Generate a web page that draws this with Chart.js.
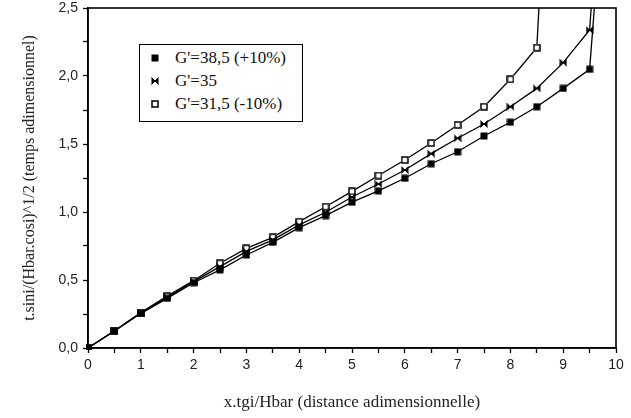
<!DOCTYPE html>
<html>
<head>
<meta charset="utf-8">
<script src="https://cdn.jsdelivr.net/npm/chart.js@4"></script>
<style>
  html, body { margin: 0; padding: 0; background: #fff; }
  #wrap { position: relative; width: 631px; height: 418px; }
  #legend {
    position: absolute; left: 139px; top: 44px; width: 162px; height: 76px;
    border: 1.5px solid #000; background: #fff;
    font-family: "Liberation Serif", "Times New Roman", serif; font-size: 17px; color: #111;
  }
  .row { position: absolute; left: 0; height: 22px; line-height: 22px; white-space: nowrap; }
  .row img { position: absolute; left: 11px; top: 7px; }
  .row span { position: absolute; left: 35px; top: 0; }
</style>
</head>
<body>
<div id="wrap">
  <canvas id="c" width="631" height="418"></canvas>
  <div id="legend"></div>
</div>
<script>
// ---- data ----
const seriesLabels = ["G'=38,5 (+10%)", "G'=35", "G'=31,5 (-10%)"];

const xFilled = [0, 0.5, 1, 1.5, 2, 2.5, 3, 3.5, 4, 4.5, 5, 5.5, 6, 6.5, 7, 7.5, 8, 8.5, 9, 9.5, 9.59];
const yFilled = [0, 0.125, 0.255, 0.365, 0.48, 0.574, 0.684, 0.777, 0.885, 0.973, 1.072, 1.155, 1.248, 1.355, 1.443, 1.559, 1.66, 1.774, 1.909, 2.049, 2.5];

const xCross = [0, 0.5, 1, 1.5, 2, 2.5, 3, 3.5, 4, 4.5, 5, 5.5, 6, 6.5, 7, 7.5, 8, 8.5, 9, 9.5, 9.53];
const yCross = [0, 0.125, 0.255, 0.372, 0.488, 0.598, 0.71, 0.795, 0.905, 0.998, 1.11, 1.206, 1.309, 1.429, 1.542, 1.647, 1.774, 1.909, 2.098, 2.338, 2.5];

const xOpen = [0, 0.5, 1, 1.5, 2, 2.5, 3, 3.5, 4, 4.5, 5, 5.5, 6, 6.5, 7, 7.5, 8, 8.5, 8.54];
const yOpen = [0, 0.127, 0.26, 0.382, 0.495, 0.623, 0.733, 0.814, 0.929, 1.039, 1.152, 1.268, 1.382, 1.507, 1.64, 1.774, 1.976, 2.208, 2.5];

const xTickStep = 0.5, yTickStep = 0.25;
const xTitle = "x.tgi/Hbar (distance adimensionnelle)";
const yTitle = "t.sini/(Hbar.cosi)^1/2 (temps adimensionnel)";

// ---- marker images ----
function makeMarker(kind) {
  const c = document.createElement('canvas');
  c.width = 8; c.height = 8;
  const g = c.getContext('2d');
  g.fillStyle = '#000'; g.strokeStyle = '#000';
  if (kind === 'filled') {
    g.fillRect(0.5, 0.5, 7, 7);
  } else if (kind === 'open') {
    g.fillStyle = '#fff'; g.fillRect(0, 0, 8, 8);
    g.lineWidth = 1.5; g.strokeRect(1, 1, 6, 6);
  } else {
    g.beginPath();
    g.moveTo(0.5, 0.5); g.lineTo(7.5, 7.5); g.lineTo(7.5, 0.5); g.lineTo(0.5, 7.5); g.closePath();
    g.fill();
    g.lineWidth = 1; g.beginPath(); g.moveTo(0.5, 0.5); g.lineTo(7.5, 7.5); g.moveTo(7.5, 0.5); g.lineTo(0.5, 7.5); g.stroke();
  }
  return c;
}
const markers = [makeMarker('filled'), makeMarker('cross'), makeMarker('open')];

function pts(xs, ys) { return xs.map((x, i) => ({ x: x, y: ys[i] })); }
function ds(label, xs, ys, marker) {
  const last = xs.length - 1;
  return {
    label: label,
    data: pts(xs, ys),
    borderColor: '#000',
    borderWidth: 1.3,
    pointStyle: marker,
    pointRadius: ctx => ctx.dataIndex === last ? 0 : 4,
    pointHoverRadius: 0,
    tension: 0,
    fill: false,
    clip: 2
  };
}

const frame = {
  id: 'frame',
  afterDatasetsDraw(chart) {
    const a = chart.chartArea, ctx = chart.ctx;
    ctx.save();
    ctx.strokeStyle = '#000'; ctx.lineWidth = 1.6;
    ctx.strokeRect(a.left, a.top, a.right - a.left, a.bottom - a.top);
    ctx.restore();
  }
};

const tickFont = { family: "'Liberation Sans', Arial, sans-serif", size: 14 };
const xTitleFont = { family: "'Liberation Serif', 'Times New Roman', serif", size: 17 };
const yTitleFont = { family: "'Liberation Serif', 'Times New Roman', serif", size: 16 };

new Chart(document.getElementById('c'), {
  type: 'line',
  data: {
    datasets: [
      ds(seriesLabels[0], xFilled, yFilled, markers[0]),
      ds(seriesLabels[1], xCross, yCross, markers[1]),
      ds(seriesLabels[2], xOpen, yOpen, markers[2])
    ]
  },
  options: {
    responsive: false,
    animation: false,
    events: [],
    layout: { padding: { top: 8, right: 15, left: 0, bottom: 0 } },
    plugins: { legend: { display: false }, tooltip: { enabled: false } },
    scales: {
      x: {
        type: 'linear', min: 0, max: 10,
        ticks: {
          stepSize: xTickStep, color: '#222', font: tickFont, padding: 4, maxRotation: 0,
          autoSkip: false,
          callback: v => Number.isInteger(v) ? String(v) : ''
        },
        grid: { drawOnChartArea: false, tickLength: 5, tickColor: '#000', tickWidth: 1.3 },
        border: { color: '#000', width: 1.6 },
        title: { display: true, text: xTitle, font: xTitleFont, color: '#222', padding: { top: 0, bottom: 5 } },
        afterFit: s => { s.height = 70; s.paddingRight = 0; s.paddingLeft = 0; }
      },
      y: {
        type: 'linear', min: 0, max: 2.5,
        ticks: {
          stepSize: yTickStep, color: '#222', font: tickFont, padding: 5, autoSkip: false,
          callback: v => (Math.abs(v * 2 - Math.round(v * 2)) < 1e-9) ? v.toFixed(1).replace('.', ',') : ''
        },
        grid: { drawOnChartArea: false, tickLength: 5, tickColor: '#000', tickWidth: 1.3 },
        border: { color: '#000', width: 1.6 },
        title: { display: true, text: yTitle, font: yTitleFont, color: '#222', padding: { top: 20, bottom: 0 } },
        afterFit: s => { s.width = 88; s.paddingTop = 0; s.paddingBottom = 0; }
      }
    }
  },
  plugins: [frame]
});

// ---- HTML legend built from the series labels ----
const legend = document.getElementById('legend');
const rowTops = [2, 25, 48];
seriesLabels.forEach((lab, i) => {
  const row = document.createElement('div');
  row.className = 'row';
  row.style.top = rowTops[i] + 'px';
  const img = document.createElement('img');
  img.src = markers[i].toDataURL();
  const sp = document.createElement('span');
  sp.textContent = lab;
  row.appendChild(img); row.appendChild(sp);
  legend.appendChild(row);
});
</script>
</body>
</html>
